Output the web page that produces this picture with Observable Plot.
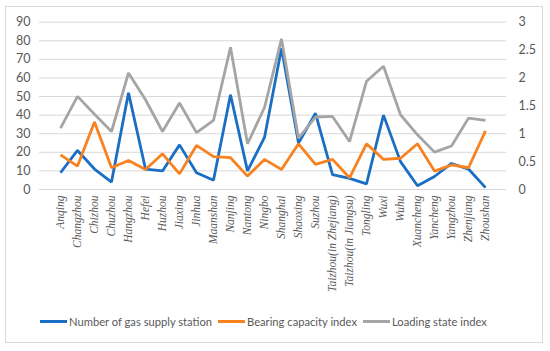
<!DOCTYPE html>
<html>
<head>
<meta charset="utf-8">
<script src="https://cdn.jsdelivr.net/npm/d3@7"></script>
<script src="https://cdn.jsdelivr.net/npm/@observablehq/plot@0.6"></script>
<style>
  html, body { margin: 0; padding: 0; background: #fff; }
  #frame { position: absolute; left: 5px; top: 6px; width: 538px; height: 337px; border: 1px solid #d9d9d9; box-sizing: border-box; }
  #chart { position: absolute; left: 0; top: 0; }
  #legend { position: absolute; left: 0; top: 315px; width: 550px; font-family: Lato, "Open Sans", sans-serif; font-size: 11.2px; color: #595959; }
  .item { position: absolute; display: flex; align-items: center; white-space: nowrap; }
  .sw { width: 27px; height: 3px; margin-right: 2px; }
</style>
</head>
<body>
<div id="frame"></div>
<div id="chart"></div>
<div id="legend"></div>
<script>
const cities = ["Anqing","Changzhou","Chizhou","Chuzhou","Hangzhou","Hefei","Huzhou","Jiaxing","Jinhua","Maanshan","Nanjing","Nantong","Ningbo","Shanghai","Shaoxing","Suzhou","Taizhou(in Zhejiang)","Taizhou(in Jiangsu)","Tongling","Wuxi","Wuhu","Xuancheng","Yancheng","Yangzhou","Zhenjiang","Zhoushan"];
const stations = [9,21,11,4,52,11,10,24,9,5,51,10,28,76,25,41,8,6,3,40,15,2,7,14,11,1];
const bearing = [0.62,0.42,1.21,0.39,0.52,0.36,0.64,0.28,0.79,0.59,0.57,0.24,0.54,0.36,0.82,0.45,0.54,0.21,0.82,0.54,0.56,0.82,0.33,0.44,0.39,1.05];
const loading = [1.1,1.67,1.35,1.04,2.09,1.61,1.04,1.55,1.02,1.24,2.55,0.82,1.47,2.7,0.92,1.3,1.31,0.86,1.94,2.21,1.34,0.98,0.67,0.78,1.28,1.24];
const leftTicks = [0,10,20,30,40,50,60,70,80,90];
const rightTicks = [0,0.5,1,1.5,2,2.5,3];
const seriesNames = ["Number of gas supply station","Bearing capacity index","Loading state index"];
const colors = ["#1a6fc4","#f7821f","#a5a5a5"];

const ratio = 30; // secondary axis 0..3 maps to primary 0..90
const rows = [];
cities.forEach((c,i) => {
  rows.push({city:c, series:seriesNames[0], v: stations[i]});
  rows.push({city:c, series:seriesNames[1], v: bearing[i]*ratio});
  rows.push({city:c, series:seriesNames[2], v: loading[i]*ratio});
});

const plot = Plot.plot({
  width: 550,
  height: 300,
  marginLeft: 39,
  marginRight: 44,
  marginTop: 21.7,
  marginBottom: 111,
  style: {fontFamily: "Lato, 'Open Sans', sans-serif", fontSize: "12px", color: "#595959", background: "transparent"},
  x: {type: "point", domain: cities, padding: 0.5, label: null},
  y: {domain: [0, 90], label: null},
  color: {domain: seriesNames, range: colors},
  marks: [
    Plot.gridY(leftTicks, {stroke: "#d9d9d9", strokeOpacity: 1, strokeWidth: 1}),
    Plot.axisY(leftTicks, {anchor: "left", tickSize: 0, tickPadding: 9, label: null, fill: "#595959", fontSize: 12.5}),
    Plot.axisY(rightTicks.map(d => d*ratio), {anchor: "right", tickSize: 0, tickPadding: 12, label: null, fill: "#595959", fontSize: 12.5, tickFormat: d => String(d/ratio), textAnchor: "start"}),
    Plot.axisX({tickRotate: -90, tickSize: 0, tickPadding: 6, label: null, fill: "#595959", fontSize: 11.5, fontStyle: "italic", fontFamily: "'Liberation Serif', serif"}),
    Plot.line(rows, {x: "city", y: "v", z: "series", stroke: "series", strokeWidth: 2.8, strokeLinejoin: "miter", strokeLinecap: "butt"})
  ]
});
document.getElementById("chart").appendChild(plot);

const legend = document.getElementById("legend");
const lefts = [40, 218, 363];
seriesNames.forEach((n,i) => {
  const it = document.createElement("div");
  it.className = "item";
  it.style.left = lefts[i] + "px";
  it.innerHTML = `<span class="sw" style="background:${colors[i]}"></span><span>${n}</span>`;
  legend.appendChild(it);
});
</script>
</body>
</html>
